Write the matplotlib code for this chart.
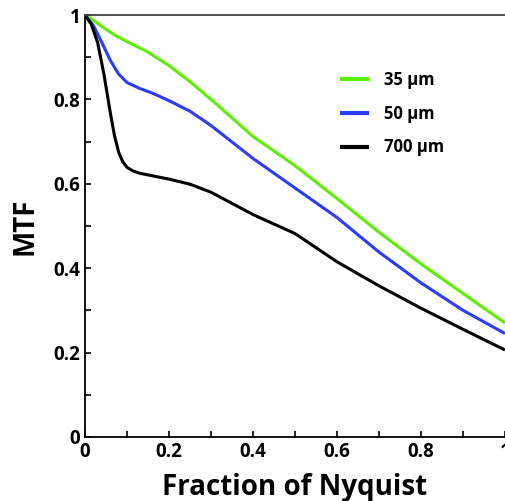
import matplotlib.pyplot as plt
from matplotlib.ticker import MultipleLocator

# -------------------------------
# Data
# -------------------------------
freq_35 = [0.0, 0.025, 0.05, 0.075, 0.1, 0.15, 0.2, 0.25, 0.3,
           0.4, 0.5, 0.6, 0.7, 0.8, 0.9, 1.0]
mtf_35 = [1.0, 0.984, 0.966, 0.950, 0.937, 0.912, 0.88, 0.842, 0.80,
          0.712, 0.643, 0.565, 0.485, 0.41, 0.34, 0.27]

freq_50 = [0.0, 0.02, 0.04, 0.06, 0.08, 0.1, 0.13, 0.16, 0.2, 0.25, 0.3,
           0.4, 0.5, 0.6, 0.7, 0.8, 0.9, 1.0]
mtf_50 = [1.0, 0.975, 0.935, 0.893, 0.86, 0.84, 0.826, 0.815, 0.797, 0.772, 0.738,
          0.66, 0.59, 0.52, 0.438, 0.365, 0.30, 0.245]

freq_700 = [0.0, 0.015, 0.03, 0.045, 0.06, 0.07, 0.08, 0.09, 0.1, 0.115, 0.13,
            0.16, 0.2, 0.25, 0.3, 0.4, 0.5, 0.6, 0.7, 0.8, 0.9, 1.0]
mtf_700 = [1.0, 0.978, 0.935, 0.86, 0.77, 0.715, 0.675, 0.652, 0.639, 0.63, 0.625,
           0.619, 0.611, 0.599, 0.58, 0.527, 0.482, 0.415, 0.358, 0.305, 0.255, 0.206]

labels = ["35 µm", "50 µm", "700 µm"]
colors = ["#5cf000", "#2a3cff", "#000000"]

FONT = "Open Sans"


def tick_fmt(v, pos):
    v = round(v, 3)
    if v == 0:
        return "0"
    if v == 1:
        return "1"
    return f"{v:.1f}"


# -------------------------------
# Plot
# -------------------------------
fig = plt.figure(figsize=(5.06, 5.01), dpi=100)
ax = fig.add_axes([0.168, 0.128, 0.830, 0.842])

series = [(freq_35, mtf_35), (freq_50, mtf_50), (freq_700, mtf_700)]
for (xs, ys), lab, col in zip(series, labels, colors):
    ax.plot(xs, ys, color=col, lw=2.2, label=lab, solid_capstyle="butt")

ax.set_xlim(0, 1)
ax.set_ylim(0, 1)
ax.xaxis.set_major_locator(MultipleLocator(0.2))
ax.xaxis.set_minor_locator(MultipleLocator(0.1))
ax.yaxis.set_major_locator(MultipleLocator(0.2))
ax.yaxis.set_minor_locator(MultipleLocator(0.1))
ax.xaxis.set_major_formatter(tick_fmt)
ax.yaxis.set_major_formatter(tick_fmt)
ax.tick_params(which="both", direction="in", length=4, width=1.2, top=False, right=False)
ax.tick_params(which="major", labelsize=13.5)
for lbl in ax.get_xticklabels() + ax.get_yticklabels():
    lbl.set_fontfamily(FONT)
    lbl.set_fontweight("bold")

ax.spines["right"].set_visible(False)
ax.spines["top"].set_color("#444444")
for s in ["left", "bottom", "top"]:
    ax.spines[s].set_linewidth(1.3)

ax.set_xlabel("Fraction of Nyquist", fontsize=20, fontweight="bold",
              fontfamily=FONT, labelpad=8)
ax.set_ylabel("MTF", fontsize=20, fontweight="bold", fontfamily=FONT, labelpad=10)

leg = ax.legend(loc="upper left", bbox_to_anchor=(0.606, 0.868), frameon=False,
                handlelength=1.75, handletextpad=0.9, labelspacing=0.95,
                borderpad=0, borderaxespad=0,
                prop={"family": FONT, "weight": "bold", "size": 12})
for line in leg.get_lines():
    line.set_linewidth(3)

fig.savefig("out.png", dpi=100)
